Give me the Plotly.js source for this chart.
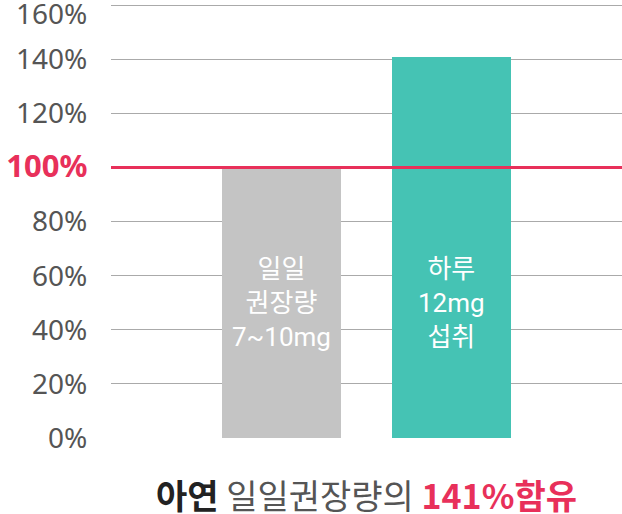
<!DOCTYPE html>
<html>
<head>
<meta charset="utf-8">
<script src="https://cdn.plot.ly/plotly-3.0.1.min.js"></script>
<style>html,body{margin:0;padding:0;background:#fff;}#chart{width:622px;height:514px;}</style>
</head>
<body>
<div id="chart"></div>
<script>
const categories = ['일일권장량', '하루섭취'];
const values = [100, 141];
const barColors = ['#c4c4c4', '#45c3b4'];
const barLabels = ['일일<br>권장량<br>7~10mg', '하루<br>12mg<br>섭취'];
const tickVals = [0, 20, 40, 60, 80, 100, 120, 140, 160];
const tickLabels = ['0%', '20%', '40%', '60%', '80%', '<span style="color:#e8305a;font-size:31px"><b>100%</b></span>', '120%', '140%', '160%'];
const referenceLine = 100;
const titleParts = ['아연', '일일권장량의', '141%함유'];

const tickFont = {family: '"Noto Sans", sans-serif', size: 28, color: '#555'};
const topIdx = tickVals.length - 1;
// the top tick label is drawn as an annotation, nudged down to stay inside the page
const shownTickText = tickLabels.map((t, i) => i === topIdx ? '' : t);

const trace = {
  type: 'bar',
  x: categories,
  y: values,
  width: 0.7,
  marker: {color: barColors},
  hoverinfo: 'none'
};

const annotations = categories.map((c, i) => ({
  x: c, y: 50, xref: 'x', yref: 'y',
  text: barLabels[i], showarrow: false,
  font: {family: 'Roboto, "Noto Sans CJK KR", sans-serif', size: 26, color: '#ffffff'},
  align: 'center'
}));
annotations.push({
  x: 0, xref: 'paper', xanchor: 'right', xshift: -23,
  y: tickVals[topIdx], yref: 'y', yanchor: 'middle', yshift: -8,
  text: tickLabels[topIdx], showarrow: false, font: tickFont,
  borderpad: 0
});
annotations.push({
  x: 0.5, y: -0.129, xref: 'paper', yref: 'paper', xanchor: 'center', yanchor: 'middle',
  showarrow: false,
  text: '<b><span style="color:#222">' + titleParts[0] + '</span></b> <span style="color:#555">' + titleParts[1] + '</span> <b><span style="color:#e8305a">' + titleParts[2] + '</span></b>',
  font: {family: '"Noto Sans CJK KR", sans-serif', size: 34, color: '#555'}
});

const layout = {
  width: 622, height: 514,
  margin: {l: 111, r: 0, t: 2, b: 76, pad: 0, autoexpand: false},
  paper_bgcolor: '#fff', plot_bgcolor: '#fff',
  showlegend: false,
  xaxis: {range: [-1, 2], showticklabels: false, showgrid: false, zeroline: false, showline: false, fixedrange: true, type: 'category'},
  yaxis: {
    range: [0, 161.2], tickvals: tickVals, ticktext: shownTickText,
    showgrid: true, gridcolor: '#aaaaaa', gridwidth: 1,
    zeroline: false, showline: false, automargin: false,
    ticklabeloverflow: 'allow',
    ticks: 'outside', ticklen: 17, tickcolor: 'rgba(0,0,0,0)',
    tickfont: tickFont
  },
  shapes: [{
    type: 'line', xref: 'paper', x0: 0, x1: 1, yref: 'y', y0: referenceLine, y1: referenceLine,
    line: {color: '#e8305a', width: 3}
  }],
  annotations: annotations,
  bargap: 0
};

Plotly.newPlot('chart', [trace], layout, {displayModeBar: false, staticPlot: true});
</script>
</body>
</html>
